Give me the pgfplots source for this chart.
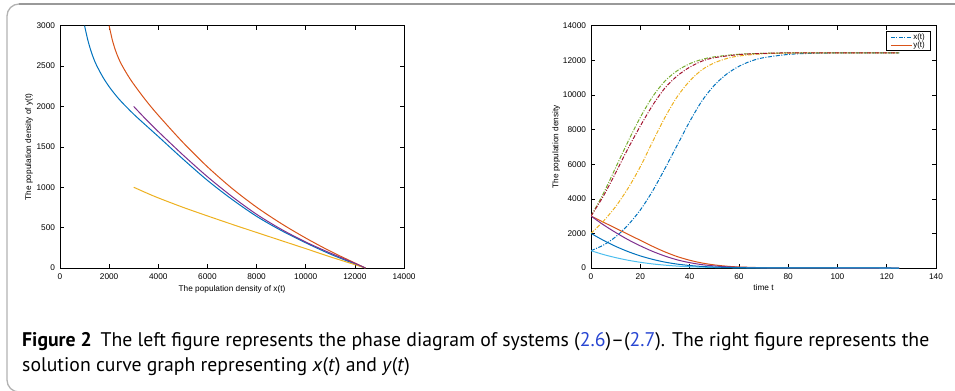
\documentclass[border=0pt]{standalone}
\usepackage{fontspec}
\setmainfont{PT Sans}
\newfontfamily\hv{Liberation Sans}
\usepackage{pgfplots}
\pgfplotsset{compat=1.18}
\definecolor{mblue}{RGB}{0,114,189}
\definecolor{morange}{RGB}{217,83,25}
\definecolor{myellow}{RGB}{237,177,32}
\definecolor{mpurple}{RGB}{126,47,142}
\definecolor{mgreen}{RGB}{119,172,48}
\definecolor{mlblue}{RGB}{77,190,238}
\definecolor{mred}{RGB}{162,20,47}
\definecolor{linkblue}{RGB}{40,70,210}
\pgfplotsset{
  mat/.style={
    scale only axis,
    axis line style={line width=0.6bp},
    tick style={line width=0.5bp, black},
    major tick length=4bp,
    tick align=inside,
    ticklabel style={font=\hv\fontsize{8.3}{9}\selectfont},
    label style={font=\hv\fontsize{8.3}{9}\selectfont},
    /pgf/number format/assume math mode=true,
    /pgf/number format/1000 sep={},
    scaled ticks=false,
    xticklabel style={anchor=base, yshift=-11bp},
    yticklabel style={xshift=-1.5bp},
    every axis plot/.append style={line width=1bp},
  },
  dd/.style={dash pattern=on 4bp off 1.5bp on 1bp off 1.5bp},
}
\begin{document}
\begin{tikzpicture}[x=1bp,y=1bp]
\useasboundingbox (0,0) rectangle (955,390);
\draw[gray!60, line width=1.3bp, rounded corners=12bp] (985,-2) -- (7,-2) -- (7,386) -- (985,386);
\draw[gray!80, line width=1.6bp] (19,386) -- (985,386);

\begin{axis}[mat,
  at={(60bp,122bp)}, anchor=south west,
  width=344bp, height=242.3bp,
  xmin=0, xmax=14000, ymin=0, ymax=3000,
  xtick={0,2000,...,14000}, ytick={0,500,...,3000},
  xlabel={The population density of x(t)},
  ylabel={The population density of y(t)},
  xlabel style={at={(axis description cs:0.5,-0.095)}, anchor=base},
  ylabel style={at={(axis description cs:-0.09,0.5)}, anchor=center},
]
\addplot[draw=mblue, smooth] coordinates {(1000,3000) (1125,2831) (1250,2697) (1375,2589) (1500,2502) (1750,2361) (2000,2245) (2250,2146) (2500,2058) (3000,1904) (3500,1765) (4000,1628) (5000,1350) (6000,1085) (7000,850) (8000,640) (9000,465) (10000,312) (11000,172) (12000,50) (12430,0)};
\addplot[draw=morange, smooth] coordinates {(2000,3000) (2125,2828) (2250,2701) (2375,2602) (2500,2522) (2750,2390) (3000,2276) (3500,2073) (4000,1891) (5000,1556) (6000,1253) (7000,986) (8000,753) (9000,551) (10000,371) (11000,208) (12000,62) (12430,0)};
\addplot[draw=myellow, smooth] coordinates {(3000,1000) (3500,932) (4000,868) (5000,752) (6000,645) (7000,541) (8000,440) (9000,340) (10000,240) (11000,138) (12000,42) (12430,0)};
\addplot[draw=mpurple, smooth] coordinates {(3000,2000) (3500,1840) (4000,1689) (5000,1401) (6000,1130) (7000,885) (8000,665) (9000,480) (10000,322) (11000,185) (12000,58) (12430,0)};
\end{axis}

\begin{axis}[mat,
  at={(591bp,122bp)}, anchor=south west,
  width=345bp, height=242.3bp,
  xmin=0, xmax=140, ymin=0, ymax=14000,
  xtick={0,20,...,140}, ytick={0,2000,...,14000},
  xlabel={time t},
  ylabel={The population density},
  xlabel style={at={(axis description cs:0.5,-0.091)}, anchor=base},
  ylabel style={at={(axis description cs:-0.101,0.5)}, anchor=center},
  legend style={at={(rel axis cs:0.971,0.970)}, anchor=north east, draw=none, fill=none,
    font=\hv\fontsize{8}{8.5}\selectfont, inner xsep=0bp, inner ysep=0bp, row sep=-2bp,
    nodes={inner sep=1bp}, /tikz/every even column/.append style={column sep=0.5bp},
    cells={anchor=west}},
]
\addplot[draw=mblue, dd, smooth, legend image code/.code={\draw[draw=mblue, line width=1.1bp, dash pattern=on 4bp off 1.5bp on 1bp off 1.5bp] (0bp,0bp) -- (21bp,0bp);}] coordinates {(0,1000) (5,1320) (10,1800) (15,2480) (20,3350) (25,4450) (30,5750) (35,7100) (40,8450) (45,9650) (50,10550) (55,11200) (60,11650) (65,11960) (70,12150) (80,12340) (90,12405) (100,12425) (125,12430)};
\addlegendentry{x(t)}
\addplot[draw=morange, smooth, legend image code/.code={\draw[draw=morange, line width=1.1bp] (0bp,0bp) -- (21bp,0bp);}] coordinates {(0,3000) (5,2650) (10,2300) (15,1950) (20,1600) (25,1250) (30,930) (35,660) (40,450) (45,290) (50,180) (55,105) (60,60) (70,18) (80,5) (100,0) (125,0)};
\addlegendentry{y(t)}
\addplot[draw=myellow, dd, smooth, forget plot] coordinates {(0,2000) (5,2700) (10,3550) (15,4600) (20,5850) (25,7300) (30,8700) (35,9900) (40,10800) (45,11450) (50,11850) (55,12100) (60,12250) (70,12380) (80,12420) (100,12430) (125,12430)};
\addplot[draw=mpurple, smooth, forget plot] coordinates {(0,3000) (5,2500) (10,2050) (15,1640) (20,1280) (25,960) (30,690) (35,470) (40,310) (45,195) (50,120) (55,70) (60,40) (70,12) (80,3) (100,0) (125,0)};
\addplot[draw=mgreen, dd, smooth, forget plot] coordinates {(0,3000) (5,4300) (10,5800) (15,7300) (20,8700) (25,9900) (30,10800) (35,11400) (40,11800) (45,12050) (50,12200) (60,12350) (70,12400) (80,12425) (125,12430)};
\addplot[draw=mlblue, smooth, forget plot] coordinates {(0,1000) (5,780) (10,600) (15,450) (20,330) (25,235) (30,165) (35,110) (40,72) (50,30) (60,11) (70,4) (80,1) (125,0)};
\addplot[draw=mred, dd, smooth, forget plot] coordinates {(0,3000) (5,4150) (10,5500) (15,6900) (20,8200) (25,9400) (30,10400) (35,11100) (40,11600) (45,11950) (50,12150) (60,12330) (70,12400) (80,12425) (125,12430)};
\addplot[draw=mblue, smooth, forget plot] coordinates {(0,2000) (5,1600) (10,1250) (15,950) (20,700) (25,500) (30,340) (35,225) (40,145) (45,90) (50,55) (60,20) (70,6) (80,2) (125,0)};
\draw[line width=0.7bp, fill=white] (rel axis cs:0.855,0.8968) rectangle (rel axis cs:0.9846,0.9769);
\end{axis}

\node[anchor=base west, inner sep=0pt, font=\fontsize{19.8}{24}\selectfont] at (22,44)
  {\textbf{Figure 2}\hspace{0.45em}The left figure represents the phase diagram of systems (\textcolor{linkblue}{2.6})–(\textcolor{linkblue}{2.7}). The right figure represents the};
\node[anchor=base west, inner sep=0pt, font=\fontsize{19.8}{24}\selectfont] at (22,19)
  {solution curve graph representing \textit{x}(\textit{t}) and \textit{y}(\textit{t})};
\end{tikzpicture}
\end{document}
